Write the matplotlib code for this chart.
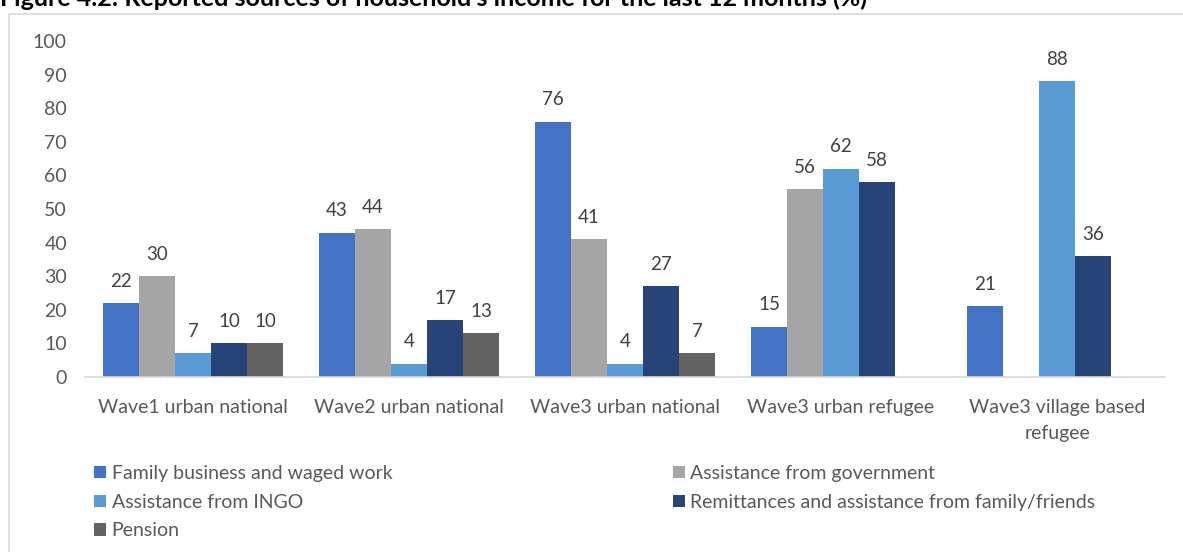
import numpy as np
import matplotlib.pyplot as plt
from matplotlib.patches import Rectangle, Patch

plt.rcParams['font.family'] = ['Lato', 'DejaVu Sans']

groups = ["Wave1 urban national", "Wave2 urban national", "Wave3 urban national",
          "Wave3 urban refugee", "Wave3 village based\nrefugee"]
series = ["Family business and waged work", "Assistance from government",
          "Assistance from INGO", "Remittances and assistance from family/friends",
          "Pension"]
family = [22, 43, 76, 15, 21]
government = [30, 44, 41, 56, np.nan]
ingo = [7, 4, 4, 62, 88]
remittances = [10, 17, 27, 58, 36]
pension = [10, 13, 7, np.nan, np.nan]
colors = ["#4472C4", "#A5A5A5", "#5B9BD5", "#264478", "#636363"]

txt = "#595959"
W, H = 1183, 552
fig = plt.figure(figsize=(W / 100, H / 100), dpi=100)

# outer chart frame
fig.patches.append(Rectangle((9 / W, -0.1), 1.2, 1 - 14 / H + 0.1, transform=fig.transFigure,
                             fill=False, edgecolor="#D9D9D9", linewidth=1.2))
fig.text(0.0, 1 - 6 / H, "Figure 4.2: Reported sources of household's income for the last 12 months (%)",
         fontsize=18, fontweight="bold", color="black", va="baseline")

ax = fig.add_axes([85 / W, 1 - 377 / H, 1080 / W, 336 / H])
x = np.arange(len(groups))
bw = 1 / 6
data = [family, government, ingo, remittances, pension]
for i, (vals, c) in enumerate(zip(data, colors)):
    pos = x + (i - 2) * bw
    ax.bar(pos, vals, width=bw, color=c, linewidth=0)
    for p, v in zip(pos, vals):
        if not np.isnan(v):
            ax.annotate(f"{v:g}", (p, v), xytext=(0, 9.5), textcoords="offset points",
                        ha="center", va="bottom", fontsize=13.5, color="#404040")

ax.set_xlim(-0.5, len(groups) - 0.5)
ax.set_ylim(0, 100)
ax.set_yticks(range(0, 101, 10))
ax.set_xticks(x)
ax.set_xticklabels(groups, fontsize=14, color=txt, linespacing=1.65)
ax.tick_params(axis="y", length=0, pad=13, labelsize=14, labelcolor=txt)
ax.tick_params(axis="x", length=0, pad=16)
for s in ["top", "right", "left"]:
    ax.spines[s].set_visible(False)
ax.spines["bottom"].set_color("#D9D9D9")
ax.spines["bottom"].set_linewidth(1.2)

handles = [Patch(facecolor=c) for c in colors]
leg_kw = dict(frameon=False, fontsize=14, labelcolor=txt, handlelength=0.62, handleheight=0.62,
              handletextpad=0.28, labelspacing=0.6, borderaxespad=0, borderpad=0)
leg1 = fig.legend([handles[0], handles[2], handles[4]], [series[0], series[2], series[4]],
                  loc="upper left", bbox_to_anchor=(94 / W, 1 - 465 / H), **leg_kw)
leg2 = fig.legend([handles[1], handles[3]], [series[1], series[3]],
                  loc="upper left", bbox_to_anchor=(673 / W, 1 - 465 / H), **leg_kw)

fig.savefig("out.png", dpi=100)
